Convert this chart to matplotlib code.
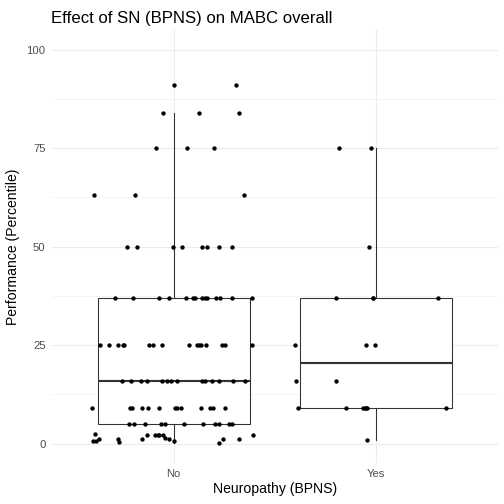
import numpy as np
import matplotlib
matplotlib.use("Agg")
import matplotlib.pyplot as plt
from matplotlib import ticker as tk

plt.rcParams['font.family'] = ['Liberation Sans', 'DejaVu Sans']

categories = ["No", "Yes"]

# No group: value rows and jitter offsets
no_values = ([91] + [84] * 3 + [75] * 3 + [63] * 3 + [50] * 8 + [37] * 14
             + [25] * 16 + [16] * 14 + [9] * 13 + [5] * 11
             + [2.5, 0.7, 0.7, 1.3, 1.2, 0.5, 1.3, 2.1, 2.3, 2.3, 2.2, 2.3,
                1.4, 1.2, 0.7, 0.2, 1.2, 1.3, 2.2])
no_jitter = ([0.306]
             + [-0.052, 0.125, 0.323]
             + [-0.087, 0.065, 0.198]
             + [-0.391, -0.190, 0.349]
             + [-0.228, -0.179, -0.003, 0.041, 0.139, 0.165, 0.225, 0.290]
             + [-0.288, -0.202, -0.072, -0.021, 0.061, 0.094, 0.106, 0.139,
                0.156, 0.165, 0.208, 0.227, 0.287, 0.385]
             + [-0.362, -0.319, -0.276, -0.251, -0.245, -0.120, -0.100, -0.057,
                0.076, 0.114, 0.125, 0.134, 0.158, 0.239, 0.252, 0.387]
             + [-0.255, -0.210, -0.159, -0.133, -0.056, -0.031, -0.014, 0.017,
                0.142, 0.153, 0.189, 0.225, 0.293, 0.352]
             + [-0.403, -0.215, -0.205, -0.157, -0.125, -0.074, 0.005, 0.018,
                0.035, 0.135, 0.180, 0.193, 0.255]
             + [-0.222, -0.195, -0.143, -0.064, -0.044, 0.051, 0.144, 0.204,
                0.222, 0.273, 0.290]
             + [-0.386, -0.396, -0.383, -0.370, -0.276, -0.268, -0.154, -0.130,
                -0.092, -0.078, -0.071, -0.051, -0.041, -0.023, 0.003, 0.222,
                0.243, 0.324, 0.393])

# Yes group
yes_values = ([75] * 2 + [50] + [37] * 4 + [25] * 3 + [16] * 2 + [9] * 7 + [1])
yes_jitter = ([-0.184, -0.028]
              + [-0.035]
              + [-0.197, -0.018, -0.018, 0.303]
              + [-0.403, -0.052, -0.005]
              + [-0.398, -0.200]
              + [-0.385, -0.149, -0.067, -0.057, -0.051, -0.044, 0.345]
              + [-0.047])

title = "Effect of SN (BPNS) on MABC overall"
xlabel = "Neuropathy (BPNS)"
ylabel = "Performance (Percentile)"

fig = plt.figure(figsize=(7, 7), dpi=72)
ax = fig.add_axes([52 / 504, 1 - 463.4 / 504, (498 - 52) / 504, (463.4 - 29.8) / 504])

box_col = "#333333"
ax.boxplot([no_values, yes_values], positions=[1, 2], widths=0.75,
           whis=1.5, patch_artist=True, showcaps=False, zorder=2,
           manage_ticks=False,
           boxprops=dict(facecolor="white", edgecolor=box_col, lw=1.07),
           whiskerprops=dict(color=box_col, lw=1.07),
           medianprops=dict(color=box_col, lw=2.13),
           flierprops=dict(marker="o", markerfacecolor="black",
                           markeredgewidth=0, markersize=4.4))

ax.scatter(1 + np.array(no_jitter), no_values, s=19, color="black", zorder=3, lw=0)
ax.scatter(2 + np.array(yes_jitter), yes_values, s=19, color="black", zorder=3, lw=0)

grid_col = "#EBEBEB"
ax.set_xlim(0.4, 2.6)
ax.set_ylim(-5, 105)
ax.set_xticks([1, 2])
ax.set_xticklabels(categories)
ax.yaxis.set_major_locator(tk.MultipleLocator(25))
ax.yaxis.set_minor_locator(tk.MultipleLocator(12.5))
ax.grid(which="major", color=grid_col, lw=1.07)
ax.grid(which="minor", axis="y", color=grid_col, lw=0.53)
ax.set_axisbelow(True)
for s in ax.spines.values():
    s.set_visible(False)
ax.tick_params(which="both", length=0, labelsize=11.2, labelcolor="#4D4D4D")
ax.tick_params(axis="y", pad=6.5)
ax.tick_params(axis="x", pad=5.5)

ax.set_title(title, loc="left", fontsize=16.8, pad=6.9, x=-0.003)
ax.set_xlabel(xlabel, fontsize=14, labelpad=3)
ax.set_ylabel(ylabel, fontsize=14, labelpad=6)

fig.savefig("out.png", dpi=72)
